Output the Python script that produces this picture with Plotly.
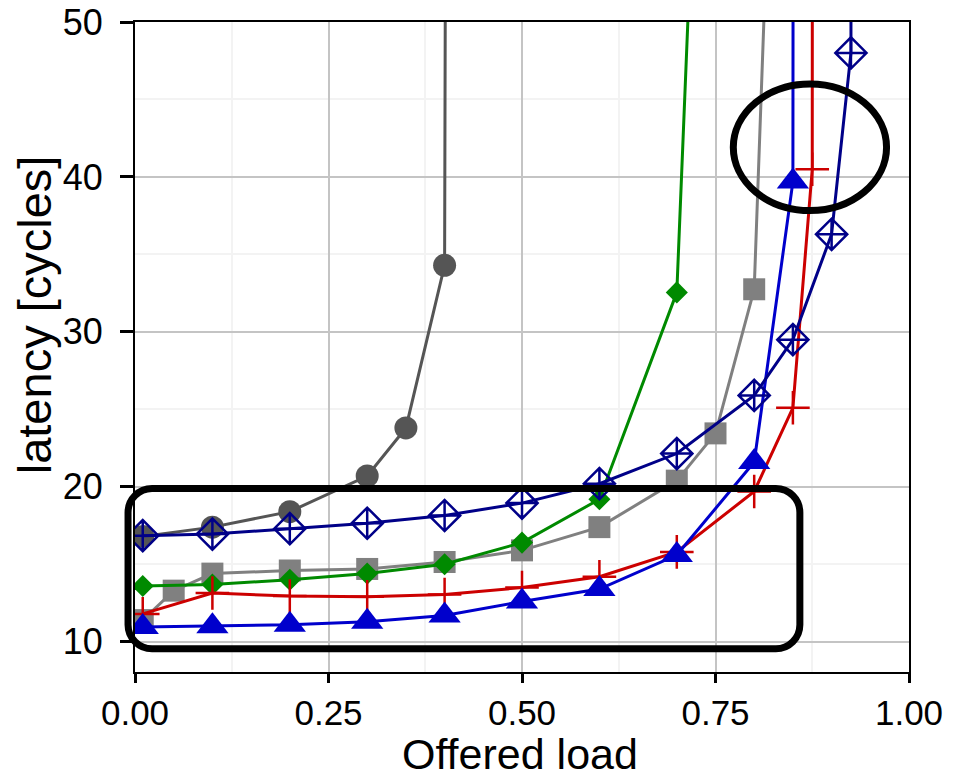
import plotly.graph_objects as go

# ---- data: offered load vs. average latency for six router configurations ----
x_circle = [0.01, 0.1, 0.2, 0.3, 0.35, 0.4, 0.45]
y_circle = [16.8, 17.4, 18.4, 20.7, 23.8, 34.3, 1000.0]

x_square = [0.01, 0.05, 0.1, 0.2, 0.3, 0.4, 0.5, 0.6, 0.7, 0.75, 0.8, 0.85]
y_square = [11.4, 13.3, 14.4, 14.6, 14.7, 15.15, 15.9, 17.4, 20.4, 23.45, 32.75, 102.0]

x_green = [0.01, 0.1, 0.2, 0.3, 0.4, 0.5, 0.6, 0.7, 0.8]
y_green = [13.6, 13.7, 14.0, 14.4, 15.0, 16.4, 19.2, 32.55, 155.0]

x_red = [0.01, 0.1, 0.2, 0.3, 0.4, 0.5, 0.6, 0.7, 0.8, 0.85, 0.875, 0.9]
y_red = [11.8, 13.15, 12.95, 12.9, 13.05, 13.5, 14.2, 15.8, 19.7, 25.1, 40.5, 3000.0]

x_blue = [0.01, 0.1, 0.2, 0.3, 0.4, 0.5, 0.6, 0.7, 0.8, 0.85, 0.9]
y_blue = [10.95, 11.0, 11.1, 11.3, 11.7, 12.6, 13.4, 15.6, 21.6, 39.7, 3000.0]

x_navy = [0.01, 0.1, 0.2, 0.3, 0.4, 0.5, 0.6, 0.7, 0.8, 0.85, 0.9, 0.925, 0.95]
y_navy = [16.85, 16.95, 17.3, 17.65, 18.15, 18.95, 20.2, 22.15, 25.9, 29.5, 36.3, 48.0, 3000.0]

x_ticks = [0.0, 0.25, 0.5, 0.75, 1.0]
y_ticks = [10, 20, 30, 40, 50]
x_minor = [0.125, 0.375, 0.625, 0.875]
y_minor = [15, 25, 35, 45]

x_title = "Offered load"
y_title = "latency [cycles]"

X_RANGE = [0.0, 1.0]
Y_RANGE = [8.05, 50.0]

FONT = "Liberation Sans"
LW = 3

fig = go.Figure()


def add_series(x, y, color, symbol, size, mline=None):
    marker = dict(symbol=symbol, size=size, color=color)
    if mline is not None:
        marker["line"] = dict(color=color, width=mline)
    fig.add_trace(go.Scatter(x=x, y=y, mode="lines+markers",
                             line=dict(color=color, width=LW),
                             marker=marker, showlegend=False))


add_series(x_circle, y_circle, "#555555", "circle", 23)
add_series(x_square, y_square, "#808080", "square", 22)
add_series(x_green, y_green, "#008a00", "diamond", 17)
add_series(x_red, y_red, "#cc0000", "cross-thin", 24, mline=2.5)
add_series(x_blue, y_blue, "#0000cc", "triangle-up", 28)
add_series(x_navy, y_navy, "#000088", "diamond-cross-open", 24, mline=2.5)


# ---- highlight outlines (drawn in paper space so they may leave the plot box) ----
def py(v):
    return (v - Y_RANGE[0]) / (Y_RANGE[1] - Y_RANGE[0])


def px(v):
    return (v - X_RANGE[0]) / (X_RANGE[1] - X_RANGE[0])


def rounded_rect(x0, x1, y0, y1, rx, ry):
    k = 0.5523
    X0, X1, Y0, Y1 = px(x0), px(x1), py(y0), py(y1)
    RX = rx / (X_RANGE[1] - X_RANGE[0])
    RY = ry / (Y_RANGE[1] - Y_RANGE[0])
    return (
        f"M {X0 + RX},{Y1} L {X1 - RX},{Y1} "
        f"C {X1 - RX + k * RX},{Y1} {X1},{Y1 - RY + k * RY} {X1},{Y1 - RY} "
        f"L {X1},{Y0 + RY} "
        f"C {X1},{Y0 + RY - k * RY} {X1 - RX + k * RX},{Y0} {X1 - RX},{Y0} "
        f"L {X0 + RX},{Y0} "
        f"C {X0 + RX - k * RX},{Y0} {X0},{Y0 + RY - k * RY} {X0},{Y0 + RY} "
        f"L {X0},{Y1 - RY} "
        f"C {X0},{Y1 - RY + k * RY} {X0 + RX - k * RX},{Y1} {X0 + RX},{Y1} Z"
    )


# low-load region box and saturation-point ellipse
box = dict(x0=-0.009, x1=0.859, y0=9.55, y1=19.89, rx=0.031, ry=1.55)
ell = dict(x0=0.773, x1=0.971, y0=37.83, y1=46.0)

fig.add_shape(type="path", xref="paper", yref="paper",
              path=rounded_rect(**box),
              line=dict(color="black", width=7), fillcolor="rgba(0,0,0,0)")
fig.add_shape(type="circle", xref="paper", yref="paper",
              x0=px(ell["x0"]), x1=px(ell["x1"]), y0=py(ell["y0"]), y1=py(ell["y1"]),
              line=dict(color="black", width=7), fillcolor="rgba(0,0,0,0)")

axis_common = dict(
    showline=True, linecolor="black", linewidth=2, mirror=True,
    ticks="outside", tickwidth=2.5, tickcolor="black",
    showgrid=True, gridcolor="#c4c4c4", gridwidth=1.5,
    zeroline=False,
)

fig.update_xaxes(
    range=X_RANGE, tickvals=x_ticks, tickformat=".2f", ticklen=9,
    minor=dict(tickvals=x_minor, showgrid=True, gridcolor="#f3f3f3", gridwidth=2, ticks=""),
    tickfont=dict(family=FONT, size=35, color="black"),
    **axis_common,
)
fig.update_yaxes(
    range=Y_RANGE, tickvals=y_ticks, ticklen=13,
    minor=dict(tickvals=y_minor, showgrid=True, gridcolor="#f3f3f3", gridwidth=2, ticks=""),
    tickfont=dict(family=FONT, size=36, color="black"),
    ticklabelstandoff=10,
    **axis_common,
)

# axis titles placed as free text under / beside the plot box
fig.add_annotation(text=x_title, xref="paper", yref="paper", x=0.497, y=-0.12625,
                   xanchor="center", yanchor="middle", showarrow=False,
                   font=dict(family=FONT, size=43, color="black"))
fig.add_annotation(text=y_title, xref="paper", yref="paper", x=-0.1295, y=0.55,
                   xanchor="center", yanchor="middle", showarrow=False, textangle=-90,
                   font=dict(family=FONT, size=47, color="black"))

fig.update_layout(
    width=962, height=778,
    margin=dict(l=135, r=53, t=22, b=106, autoexpand=False),
    plot_bgcolor="white", paper_bgcolor="white",
    font=dict(family=FONT, color="black"),
)

fig.write_html("out.html")
